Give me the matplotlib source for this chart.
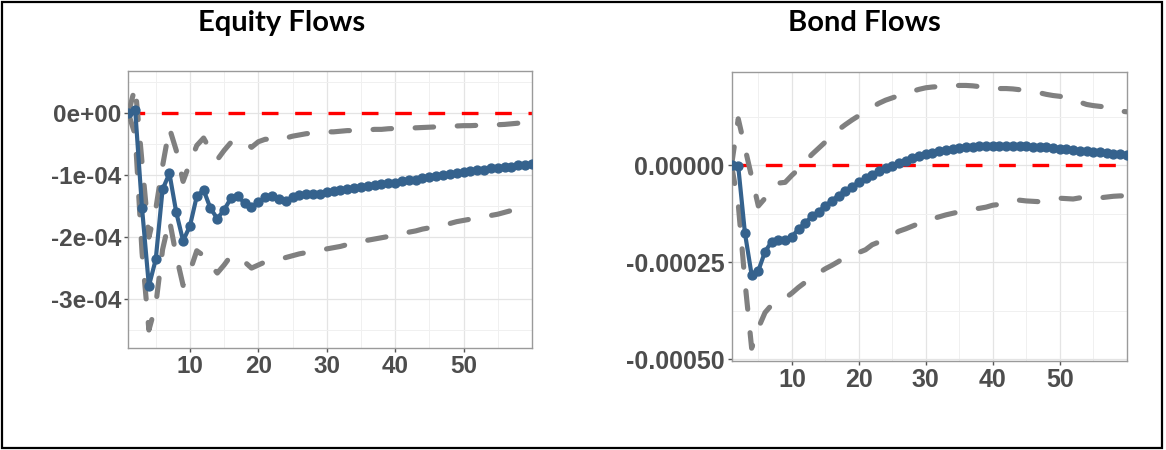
import numpy as np
import matplotlib
matplotlib.use("Agg")
import matplotlib.pyplot as plt
from matplotlib.patches import Rectangle
from matplotlib.ticker import FixedLocator, MultipleLocator

# horizonte de la respuesta al impulso
horizon = np.arange(1, 61)

# Equity Flows (en unidades de 1e-4)
equity_mean = [
    0.0, 0.05, -1.535, -2.79, -2.36, -1.23, -0.97, -1.60, -2.06, -1.82,
    -1.34, -1.24, -1.535, -1.70, -1.56, -1.37, -1.34, -1.45, -1.52, -1.43,
    -1.36, -1.33, -1.38, -1.41, -1.36, -1.32, -1.31, -1.31, -1.30, -1.27,
    -1.25, -1.24, -1.22, -1.21, -1.19, -1.18, -1.16, -1.15, -1.13, -1.12,
    -1.10, -1.08, -1.07, -1.05, -1.03, -1.01, -1.00, -0.98, -0.96, -0.95,
    -0.93, -0.92, -0.91, -0.89, -0.88, -0.87, -0.86, -0.84, -0.83, -0.82,
]
equity_upper = [
    0.0, 0.43, -0.8, -2.0, -1.55, -0.85, -0.24, -0.6, -1.1, -0.8,
    -0.52, -0.40, -0.6, -0.75, -0.6, -0.47, -0.42, -0.45, -0.55, -0.46,
    -0.42, -0.42, -0.44, -0.40, -0.37, -0.35, -0.33, -0.32, -0.31, -0.30,
    -0.30, -0.29, -0.28, -0.28, -0.27, -0.27, -0.26, -0.26, -0.25, -0.245,
    -0.24, -0.24, -0.235, -0.23, -0.225, -0.22, -0.215, -0.21, -0.205, -0.20,
    -0.20, -0.195, -0.19, -0.19, -0.185, -0.18, -0.17, -0.16, -0.155, -0.15,
]
equity_lower = [
    0.0, -0.35, -2.25, -3.5, -3.1, -2.2, -1.72, -2.3, -2.78, -2.55,
    -2.22, -2.3, -2.45, -2.58, -2.45, -2.3, -2.33, -2.4, -2.5, -2.45,
    -2.4, -2.38, -2.36, -2.33, -2.30, -2.27, -2.25, -2.23, -2.21, -2.19,
    -2.17, -2.15, -2.12, -2.10, -2.07, -2.05, -2.03, -2.01, -1.99, -1.97,
    -1.95, -1.92, -1.90, -1.87, -1.85, -1.82, -1.80, -1.78, -1.75, -1.73,
    -1.71, -1.69, -1.67, -1.65, -1.63, -1.60, -1.57, -1.54, -1.51, -1.48,
]

# Bond Flows (en unidades de 1e-5)
bond_mean = [
    0.0, -0.3, -17.5, -28.3, -27.2, -22.3, -19.7, -19.4, -19.4, -18.4,
    -16.5, -14.9, -13.2, -12.0, -10.5, -9.1, -7.8, -6.6, -5.5, -4.4,
    -3.4, -2.5, -1.6, -0.8, -0.1, 0.6, 1.2, 1.8, 2.3, 2.8,
    3.2, 3.6, 3.9, 4.2, 4.4, 4.6, 4.8, 4.9, 5.0, 5.1,
    5.1, 5.1, 5.1, 5.0, 4.9, 4.8, 4.7, 4.6, 4.4, 4.3,
    4.1, 4.0, 3.8, 3.7, 3.5, 3.3, 3.2, 3.0, 2.8, 2.7,
]
bond_upper = [
    0.0, 12.0, 4.5, -3.0, -10.5, -8.5, -6.3, -4.6, -4.4, -2.6,
    -1.0, 1.0, 2.8, 4.4, 6.0, 7.6, 9.2, 10.5, 11.7, 12.8,
    14.0, 15.0, 16.0, 16.8, 17.4, 18.0, 18.6, 19.1, 19.6, 20.0,
    20.2, 20.3, 20.4, 20.5, 20.6, 20.6, 20.5, 20.3, 20.0, 19.9,
    19.8, 19.8, 19.7, 19.5, 19.2, 19.0, 18.7, 18.3, 18.0, 17.8,
    17.4, 16.9, 16.3, 15.7, 15.4, 15.2, 15.0, 14.5, 14.0, 13.8,
]
bond_lower = [
    0.0, -10.0, -30.0, -47.2, -42.0, -38.0, -36.0, -34.8, -34.3, -33.0,
    -31.5, -30.2, -29.0, -27.8, -26.7, -25.8, -24.8, -23.5, -23.0, -22.5,
    -21.8, -20.5, -19.8, -18.9, -18.0, -17.0, -16.4, -15.7, -15.0, -14.3,
    -13.8, -13.3, -12.8, -12.4, -12.0, -11.6, -11.3, -11.1, -10.8, -10.3,
    -10.1, -10.0, -9.6, -9.0, -9.2, -9.3, -9.4, -9.0, -8.7, -8.5,
    -8.6, -8.7, -8.4, -8.1, -8.2, -8.4, -8.2, -8.0, -7.9, -7.9,
]

equity_yticks = [0.0, -1e-4, -2e-4, -3e-4]
equity_ylabels = ["0e+00", "-1e-04", "-2e-04", "-3e-04"]
bond_yticks = [0.0, -0.00025, -0.0005]
bond_ylabels = ["0.00000", "-0.00025", "-0.00050"]
xticks = [10, 20, 30, 40, 50]

BLUE = "#35628d"
GRAY = "#808080"


def irf_panel(ax, mean, upper, lower, scale, yticks, ylabels, ylim, minor_step,
              fsize):
    mean = np.array(mean) * scale
    upper = np.array(upper) * scale
    lower = np.array(lower) * scale

    ax.axhline(0, color="red", lw=2.4, dashes=(5, 5), zorder=2)
    for band in (upper, lower):
        ax.plot(horizon, band, color=GRAY, lw=3.7, dashes=(3.6, 4.6),
                dash_capstyle="round", zorder=3)
    ax.plot(horizon, mean, color=BLUE, lw=3.0, marker="o", ms=6.4,
            solid_joinstyle="round", zorder=4)

    ax.set_xlim(1, 60)
    ax.set_ylim(*ylim)
    ax.xaxis.set_major_locator(FixedLocator(xticks))
    ax.xaxis.set_minor_locator(MultipleLocator(5))
    ax.yaxis.set_major_locator(FixedLocator(yticks))
    ax.yaxis.set_minor_locator(MultipleLocator(minor_step))

    font = dict(family=["Liberation Sans", "DejaVu Sans"], weight="bold",
                size=fsize, color="#4d4d4d")
    ax.set_yticklabels(ylabels, fontdict=font)
    ax.set_xticklabels([str(t) for t in xticks], fontdict=font)

    ax.grid(which="major", color="#e4e4e4", lw=0.9, zorder=0)
    ax.grid(which="minor", color="#f0f0f0", lw=0.7, zorder=0)
    ax.set_axisbelow(True)
    ax.tick_params(which="major", length=3, width=1, color="#555555", pad=2)
    ax.tick_params(which="minor", length=0)
    for s in ax.spines.values():
        s.set_color("#9a9a9a")
        s.set_linewidth(1.0)


fig = plt.figure(figsize=(11.66, 4.5), dpi=100)

ax1 = fig.add_axes([0.1101, 0.2267, 0.3461, 0.6156])
irf_panel(ax1, equity_mean, equity_upper, equity_lower, 1e-4,
          equity_yticks, equity_ylabels, (-3.79e-4, 0.683e-4), 0.5e-4, 17.5)

ax2 = fig.add_axes([0.6274, 0.1978, 0.3389, 0.6416])
irf_panel(ax2, bond_mean, bond_upper, bond_lower, 1e-5,
          bond_yticks, bond_ylabels, (-0.000505, 0.00024), 0.000125, 18)

title_font = dict(family=["Lato", "DejaVu Sans"], weight="bold", size=21,
                  color="black", ha="center", va="center")
fig.text(282 / 1166, 1 - 23 / 450, "Equity Flows", **title_font)
fig.text(864 / 1166, 1 - 23 / 450, "Bond Flows", **title_font)

# marco negro alrededor de la figura
fig.add_artist(Rectangle((2 / 1166, 2 / 450), 1160 / 1166, 446 / 450,
                         transform=fig.transFigure, fill=False,
                         edgecolor="black", lw=1.6))

fig.savefig("out.png", dpi=100)
plt.close(fig)
